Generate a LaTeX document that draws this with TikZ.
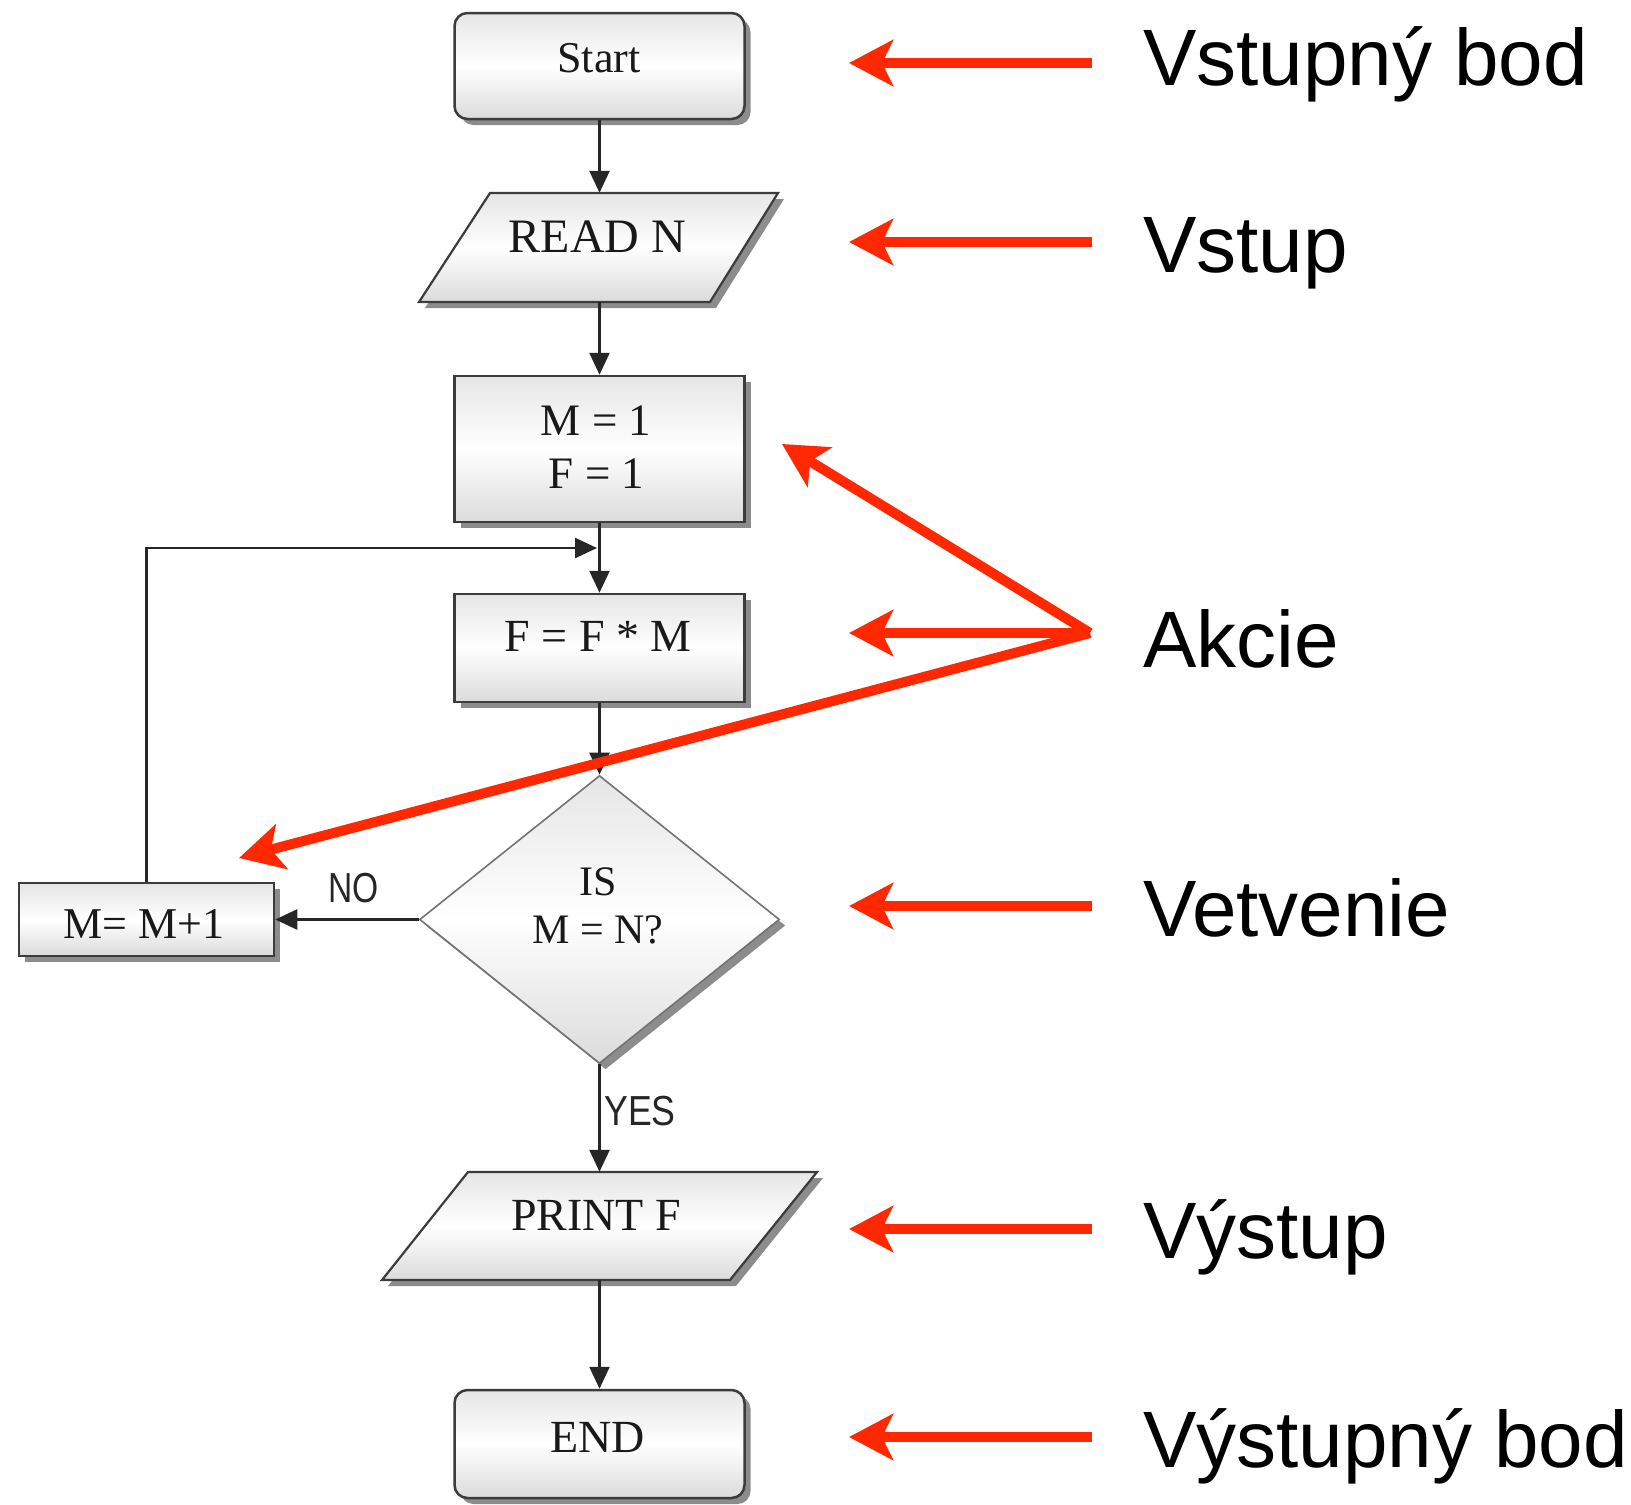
\documentclass[tikz,border=0pt]{standalone}
\usepackage{graphicx}
\usepackage{fontspec}
\setmainfont{Liberation Serif}
\newfontfamily\lblfont{Liberation Sans}
\usetikzlibrary{arrows.meta,shapes.geometric,shadows}
\definecolor{annot}{RGB}{255,40,0}
\definecolor{edge}{RGB}{60,60,60}
\begin{document}
\begin{tikzpicture}[x=1pt,y=-1pt,
  shapebase/.style={top color=black!10, bottom color=black!14, middle color=white,
    drop shadow={shadow xshift=6pt, shadow yshift=-6pt, fill=black!45, opacity=1}},
  procbox/.style={shapebase, draw=edge, line width=2.5pt, rectangle, inner sep=0pt},
  termbox/.style={procbox, rounded corners=13pt},
  iobox/.style={shapebase, draw=edge, line width=2.2pt, line join=miter},
  decbox/.style={shapebase, draw=black!55, line width=1.6pt, diamond, inner sep=0pt},
  anchorbox/.style={rectangle, inner sep=0pt, draw=none},
  flowtext/.style={font=\fontsize{45}{50}\selectfont, inner sep=0pt, anchor=base, text=black!90},
  yesno/.style={font=\lblfont\fontsize{42}{46}\selectfont, inner sep=0pt, anchor=base, text=black!85},
  flowline/.style={draw=black!85, line width=2.5pt, -{Triangle[length=22pt,width=20pt]}},
  annotline/.style={draw=annot, line width=10pt, -{Stealth[length=44pt,width=46pt,inset=11pt]}},
  annottext/.style={font=\lblfont\fontsize{80}{90}\selectfont, inner sep=0pt, anchor=base west},
]
\useasboundingbox (0,0) rectangle (1631,1505);

% ---- flowchart shapes ----
\node[termbox, minimum width=290pt, minimum height=106pt] (start) at (599.5,66) {};
\path[iobox] (490,193) -- (778,193) -- (710,302) -- (419,302) -- cycle;
\node[anchorbox, minimum width=290pt, minimum height=109pt] (readn) at (599.5,247.5) {};
\node[procbox, minimum width=290pt, minimum height=146pt] (init) at (599.5,449) {};
\node[procbox, minimum width=290pt, minimum height=108pt] (fmul) at (599.5,648) {};
\node[decbox, minimum width=360pt, minimum height=288pt] (dec) at (599.5,919.5) {};
\node[procbox, minimum width=255pt, minimum height=73pt] (inc) at (146.5,919.5) {};
\path[iobox] (468,1172) -- (817,1172) -- (730,1280) -- (382,1280) -- cycle;
\node[anchorbox, minimum width=348pt, minimum height=108pt] (outn) at (599.5,1226) {};
\node[termbox, minimum width=290pt, minimum height=108pt] (end) at (599.5,1444) {};

% ---- flowchart texts ----
\node[flowtext, font=\fontsize{44}{50}\selectfont] (startT) at (599,72) {Start};
\node[flowtext, font=\fontsize{48}{50}\selectfont] (readT) at (597.5,252) {READ N};
\node[flowtext] (initTa) at (596,435) {M = 1};
\node[flowtext] (initTb) at (596.5,488) {F = 1};
\node[flowtext, font=\fontsize{46}{50}\selectfont] (fmulT) at (598,651) {F = F * M};
\node[flowtext, font=\fontsize{42}{50}\selectfont] (decTa) at (598,895) {IS};
\node[flowtext, font=\fontsize{42}{50}\selectfont] (decTb) at (598,943) {M = N?};
\node[flowtext, font=\fontsize{44}{50}\selectfont] (incT) at (144,938) {M= M+1};
\node[flowtext, font=\fontsize{46}{50}\selectfont] (outT) at (596,1230) {PRINT F};
\node[flowtext, font=\fontsize{46}{50}\selectfont] (endT) at (597.5,1452) {END};
\node[yesno] (noT) at (353.5,902) {\scalebox{0.8}[1]{NO}};
\node[yesno, anchor=base west] (yesT) at (604,1125) {\scalebox{0.85}[1]{YES}};

% ---- flowchart connectors ----
\coordinate (join) at (597,548);
\draw[flowline] (start.south) -- (readn.north);
\draw[flowline] (readn.south) -- (init.north);
\draw[flowline] (init.south) -- (fmul.north);
\draw[flowline] (inc.north) |- (join);
\draw[flowline] (fmul.south) -- (dec.north);
\draw[flowline] (dec.west) -- (inc.east);
\draw[flowline] (dec.south) -- (outn.north);
\draw[flowline] (outn.south) -- (end.north);

% ---- annotation labels ----
\node[annottext] (lA) at (1143,85) {Vstupný bod};
\node[annottext] (lB) at (1143,272) {Vstup};
\node[annottext] (lC) at (1143,667) {Akcie};
\node[annottext] (lD) at (1143,936) {Vetvenie};
\node[annottext] (lE) at (1143,1258) {Výstup};
\node[annottext] (lF) at (1143,1467) {Výstupný bod};

% ---- annotation arrows ----
\coordinate (tA) at (1092,63);   \coordinate (hA) at (849,63);
\coordinate (tB) at (1092,242);  \coordinate (hB) at (849,242);
\coordinate (tC) at (1090,633);  \coordinate (hC) at (849,633);
\coordinate (hC2) at (782,444);  \coordinate (hC3) at (239,858);
\coordinate (tD) at (1092,906);  \coordinate (hD) at (849,906);
\coordinate (tE) at (1092,1229); \coordinate (hE) at (849,1229);
\coordinate (tF) at (1092,1437); \coordinate (hF) at (849,1437);
\draw[annotline] (tA) -- (hA);
\draw[annotline] (tB) -- (hB);
\draw[annotline] (tC) -- (hC);
\draw[annotline] (tC) -- (hC2);
\draw[annotline] (tC) -- (hC3);
\draw[annotline] (tD) -- (hD);
\draw[annotline] (tE) -- (hE);
\draw[annotline] (tF) -- (hF);
\end{tikzpicture}
\end{document}
